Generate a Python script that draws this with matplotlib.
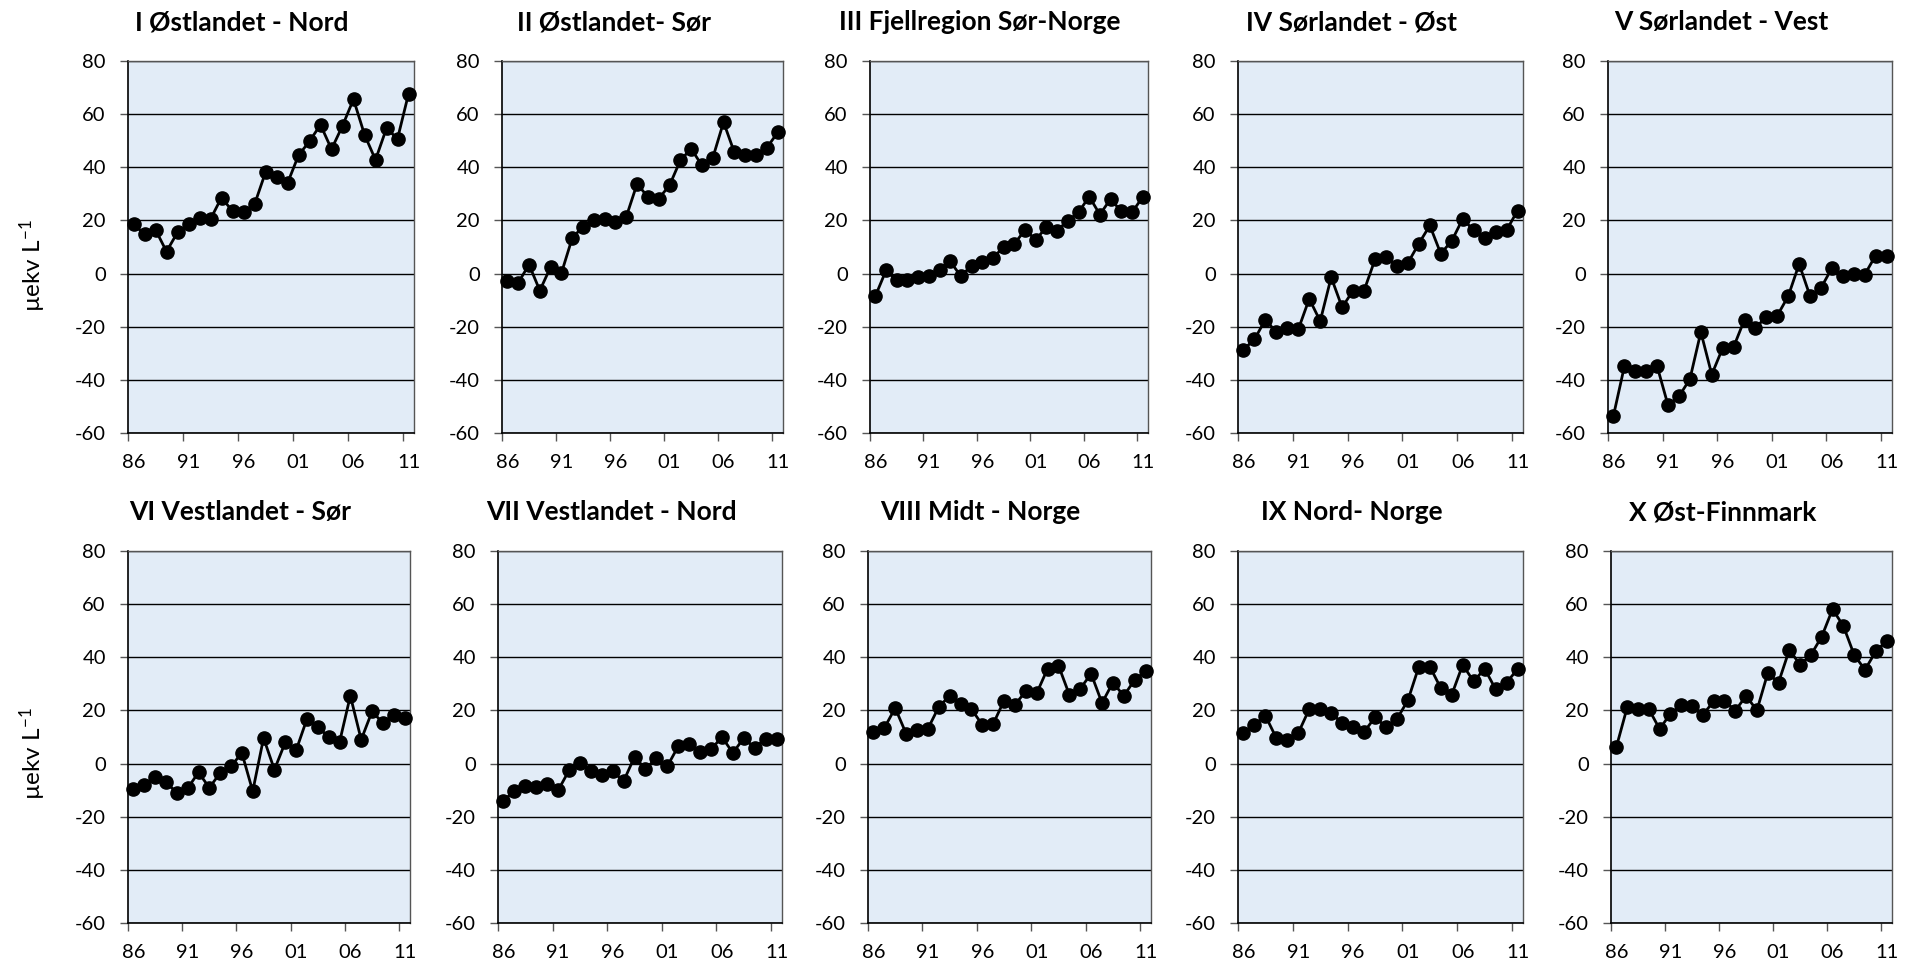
import numpy as np
import matplotlib
matplotlib.use('Agg')
import matplotlib.pyplot as plt

plt.rcParams['font.family'] = ['Lato', 'DejaVu Sans']
plt.rcParams['mathtext.fontset'] = 'custom'
plt.rcParams['mathtext.rm'] = 'Lato'
plt.rcParams['mathtext.it'] = 'Lato'
plt.rcParams['axes.unicode_minus'] = False

# data, years 1986-2011
years = list(range(1986, 2012))
year_labels = ['86', '91', '96', '01', '06', '11']

titles = ['I Østlandet - Nord', 'II Østlandet- Sør', 'III Fjellregion Sør-Norge',
          'IV Sørlandet - Øst', 'V Sørlandet - Vest', 'VI Vestlandet - Sør',
          'VII Vestlandet - Nord', 'VIII Midt - Norge', 'IX Nord- Norge',
          'X Øst-Finnmark']

ostlandet_nord = [18.6, 14.8, 16.5, 8.3, 15.5, 18.5, 20.9, 20.5, 28.6, 23.5, 23.3, 26.0, 38.1,
                  36.5, 34.0, 44.5, 49.8, 56.0, 46.8, 55.6, 65.6, 52.3, 42.8, 54.7, 50.7, 67.6]
ostlandet_sor = [-2.7, -3.5, 3.4, -6.4, 2.5, 0.2, 13.4, 17.7, 20.3, 20.6, 19.5, 21.4, 33.8,
                 28.8, 28.2, 33.2, 42.6, 47.0, 40.7, 43.5, 57.0, 45.6, 44.6, 44.6, 47.3, 53.1]
fjellregion = [-8.5, 1.2, -2.6, -2.5, -1.2, -0.8, 1.2, 4.6, -1.0, 3.0, 4.4, 5.9, 10.0,
               11.2, 16.4, 12.8, 17.4, 16.2, 19.9, 23.0, 29.0, 22.2, 28.1, 23.4, 23.0, 28.8]
sorlandet_ost = [-28.6, -24.8, -17.3, -22.1, -20.4, -21.0, -9.5, -17.9, -1.4, -12.7, -6.4, -6.4, 5.3,
                 6.3, 3.0, 4.0, 11.3, 18.1, 7.5, 12.3, 20.6, 16.3, 13.3, 15.5, 16.3, 23.7]
sorlandet_vest = [-53.5, -34.9, -36.8, -36.6, -34.9, -49.6, -46.2, -39.7, -22.0, -38.0, -28.0, -27.6, -17.3,
                  -20.4, -16.3, -15.8, -8.5, 3.6, -8.5, -5.4, 2.1, -1.0, 0.0, -0.4, 6.8, 6.6]
vestlandet_sor = [-9.5, -8.0, -4.9, -7.0, -11.0, -9.3, -3.3, -9.1, -3.5, -1.0, 4.0, -10.4, 9.6,
                  -2.3, 8.0, 5.0, 16.8, 13.8, 10.0, 8.0, 25.5, 9.0, 19.6, 15.3, 18.4, 17.0]
vestlandet_nord = [-13.9, -10.4, -8.3, -8.8, -7.5, -10.1, -2.6, 0.3, -2.9, -4.4, -2.9, -6.6, 2.5,
                   -2.0, 2.0, -1.0, 6.5, 7.5, 4.3, 5.3, 10.0, 4.0, 9.6, 5.9, 9.4, 9.2]
midt_norge = [11.9, 13.4, 20.9, 11.3, 12.8, 13.1, 21.3, 25.5, 22.4, 20.5, 14.6, 14.9, 23.7,
              22.2, 27.2, 26.5, 35.7, 36.9, 25.9, 28.2, 33.8, 22.8, 30.5, 25.5, 31.5, 34.7]
nord_norge = [11.5, 14.6, 18.0, 9.6, 9.0, 11.5, 20.5, 20.5, 19.0, 15.3, 13.8, 11.9, 17.4,
              13.8, 16.8, 23.8, 36.5, 36.5, 28.4, 25.9, 37.2, 30.9, 35.7, 28.0, 30.5, 35.5]
ost_finnmark = [6.3, 21.2, 20.5, 20.5, 13.0, 18.8, 21.9, 21.5, 18.4, 23.4, 23.7, 19.9, 25.5,
                20.0, 34.0, 30.5, 42.8, 37.2, 40.9, 47.8, 58.1, 51.8, 40.9, 35.3, 42.2, 46.2]

series = [ostlandet_nord, ostlandet_sor, fjellregion, sorlandet_ost, sorlandet_vest,
          vestlandet_sor, vestlandet_nord, midt_norge, nord_norge, ost_finnmark]

W, H = 1917, 968
# plot area edges in pixels (left, right) per panel, rows share top/bottom
x_edges = [(128, 414), (502, 783), (870, 1148), (1238, 1523), (1608, 1892),
           (128, 410), (498, 782), (868, 1151), (1238, 1523), (1611, 1892)]
row_y = [(61, 433), (551, 923)]
title_y = [22, 512]
ylabel_y = [266, 754]

fig = plt.figure(figsize=(W / 100, H / 100), dpi=100)
fig.patch.set_facecolor('white')

x = np.arange(len(years)) + 0.5

for i, (vals, title) in enumerate(zip(series, titles)):
    row = i // 5
    x0, x1 = x_edges[i]
    y0, y1 = row_y[row]
    ax = fig.add_axes([x0 / W, 1 - y1 / H, (x1 - x0) / W, (y1 - y0) / H])
    ax.set_facecolor('#E2ECF7')

    ax.plot(x, vals, color='black', lw=2, marker='o', markersize=9.5, zorder=3, clip_on=False)

    ax.set_xlim(0, len(years))
    ax.set_ylim(-60, 80)
    ax.set_yticks(range(-60, 81, 20))
    ax.yaxis.grid(True, color='black', lw=1)
    ax.set_axisbelow(True)

    # ticks at category boundaries, labels at category centres
    ax.set_xticks([0, 5, 10, 15, 20, 25])
    ax.set_xticklabels([])
    ax.set_xticks([0.5, 5.5, 10.5, 15.5, 20.5, 25.5], minor=True)
    ax.set_xticklabels(year_labels, minor=True)
    ax.tick_params(axis='x', which='major', length=6, width=1, color='#555555')
    ax.tick_params(axis='x', which='minor', length=0, pad=15, labelsize=14.5)
    ax.tick_params(axis='y', length=6, width=1, color='#555555', pad=10, labelsize=14.5)

    for s in ['left', 'bottom']:
        ax.spines[s].set_color('black')
        ax.spines[s].set_linewidth(1.2)
    for s in ['top', 'right']:
        ax.spines[s].set_color('#555555')
        ax.spines[s].set_linewidth(1)

    fig.text(((x0 + x1) / 2 - 29) / W, 1 - title_y[row] / H, title,
             ha='center', va='center', fontsize=19, fontweight='bold')

for row in range(2):
    fig.text(33 / W, 1 - ylabel_y[row] / H, 'µekv L$^{-1}$', rotation=90,
             ha='center', va='center', fontsize=17.5)

fig.savefig('out.png', dpi=100)
